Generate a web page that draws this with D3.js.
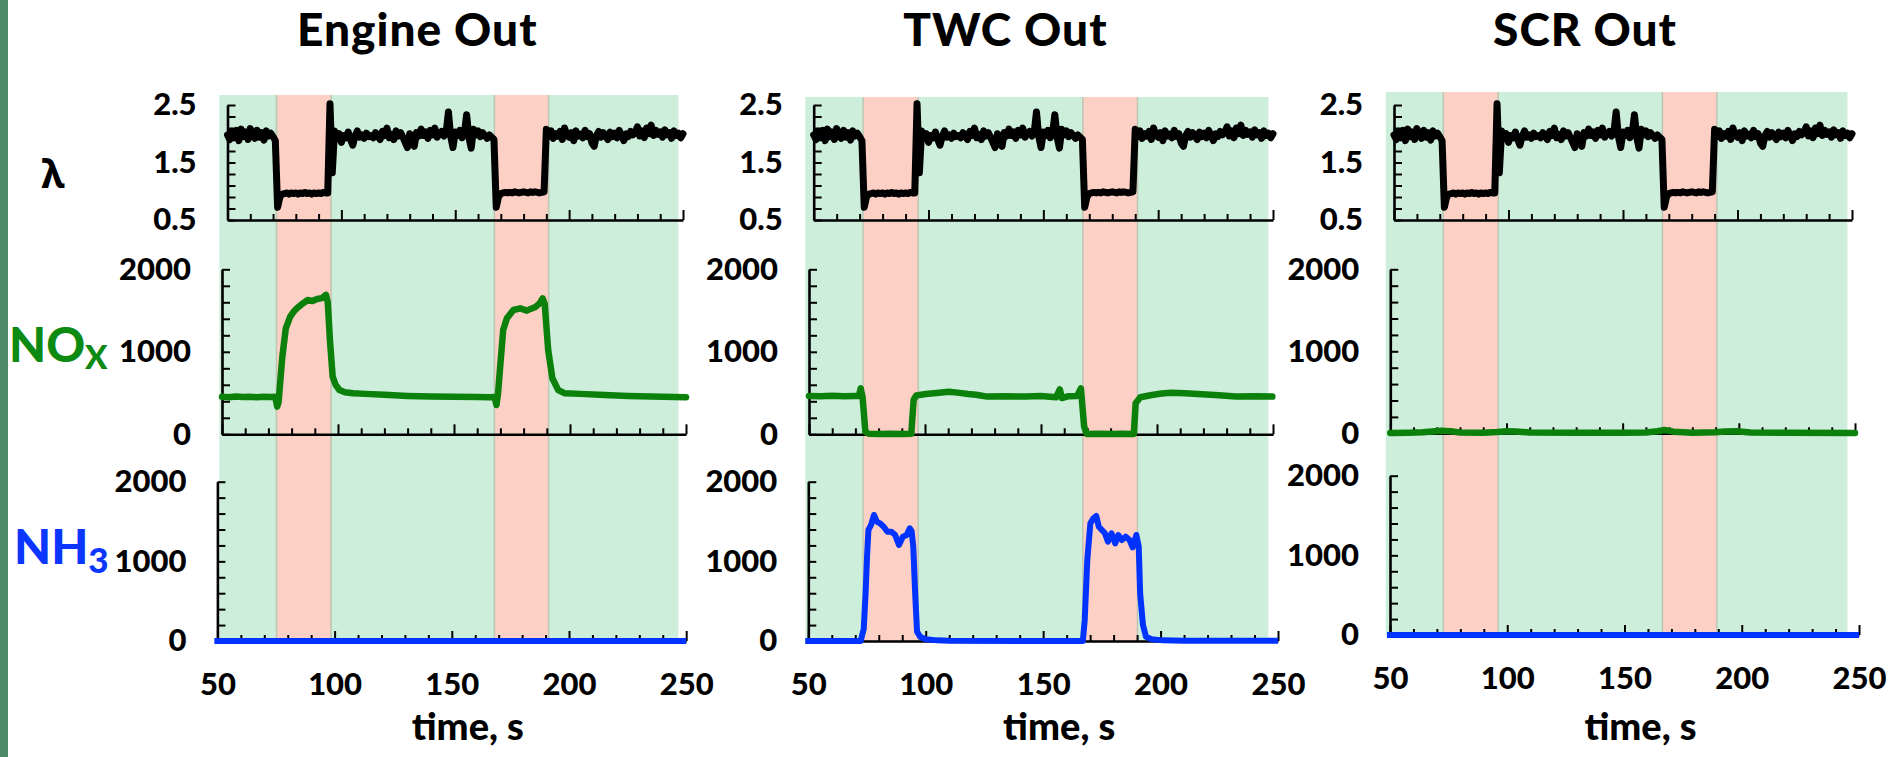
<!DOCTYPE html>
<html><head><meta charset="utf-8">
<script src="https://cdn.jsdelivr.net/npm/d3@7"></script>
<style>
html,body{margin:0;padding:0;background:#fff;}
svg{display:block;font-family:Lato,"Open Sans","DejaVu Sans",sans-serif;}
</style></head><body>
<svg id="chart" width="1888" height="757"></svg>
<script>
// ---------------- DATA ----------------
const panelTitles = ["Engine Out", "TWC Out", "SCR Out"];
const xTickLabels = [50, 100, 150, 200, 250];
const lambdaTickLabels = [2.5, 1.5, 0.5];
const concTickLabels = [2000, 1000, 0];

// lean (green) and rich (red) phases, time in s
const leanPhases = [[46.4, 71.5], [95.5, 167.2], [191.0, 248.0]];
const richPhases = [[71.5, 95.5], [167.2, 191.0]];

// lambda, one sample per second from t = 50 s to 250 s (same trace at all three positions)
const lambdaValues = [
  1.98, 1.90, 2.04, 1.93, 2.06, 1.88, 2.08, 1.95, 2.03, 1.90,
  2.09, 1.97, 1.92, 2.06, 1.94, 2.02, 1.89, 2.05, 1.96, 2.01,
  1.95, 1.88, 0.72, 0.90, 0.95, 0.96, 0.97, 0.95, 0.97, 0.96,
  0.97, 0.95, 0.97, 0.96, 0.98, 0.96, 0.97, 0.95, 0.97, 0.96,
  0.97, 0.96, 0.98, 0.97, 0.97, 2.52, 1.32, 2.05, 1.92, 2.00,
  1.85, 1.97, 1.93, 2.03, 1.90, 1.80, 1.96, 2.05, 1.94, 1.98,
  1.92, 2.01, 1.95, 1.97, 1.93, 2.02, 1.96, 1.90, 2.04, 1.97,
  2.10, 1.93, 1.99, 1.90, 2.05, 1.96, 2.02, 1.94, 1.85, 1.76,
  2.00, 1.95, 1.78, 2.02, 1.96, 2.08, 1.97, 2.03, 1.92, 2.06,
  1.98, 2.10, 1.94, 2.00, 2.04, 1.96, 2.02, 2.38, 1.95, 1.76,
  2.03, 1.97, 2.06, 1.93, 2.00, 2.33, 1.94, 1.75, 2.08, 1.98,
  2.05, 1.95, 2.02, 1.97, 1.92, 1.98, 1.94, 1.90, 0.72, 0.90,
  0.96, 0.97, 0.98, 0.97, 0.98, 0.97, 0.99, 0.98, 0.97, 0.98,
  0.99, 0.98, 0.97, 0.99, 0.98, 0.99, 0.98, 0.97, 0.98, 0.99,
  2.08, 1.95, 2.05, 1.92, 2.00, 1.96, 2.04, 1.90, 2.10, 1.97,
  1.94, 2.02, 1.88, 2.05, 1.96, 1.99, 1.93, 2.06, 1.95, 2.00,
  1.84, 1.78, 1.97, 2.04, 1.94, 2.02, 1.96, 1.90, 2.03, 1.95,
  2.01, 1.93, 2.06, 1.97, 1.88, 2.00, 1.95, 2.04, 1.98, 2.02,
  2.12, 1.96, 2.05, 1.93, 2.10, 2.00, 2.15, 1.97, 2.06, 1.99,
  2.03, 1.94, 2.07, 1.98, 2.02, 1.92, 2.05, 1.97, 2.01, 1.93,
  2.00
];

// NOx [time s, ppm]
const noxEngineOut = [
  [50,455],[53,450],[56,458],[59,451],[62,456],[65,449],[68,455],[71,451],[72.6,454],[73.2,420],
  [73.8,335],[74.4,390],[75,600],[76,940],[77.5,1285],[79.4,1426],[81,1490],[82.3,1527],[84.5,1580],
  [87,1628],[89,1615],[91,1640],[93,1650],[94.8,1690],[95.6,1600],[96.5,1150],[97.7,700],[99,600],
  [100.6,537],[103,510],[106.4,497],[112,490],[120,478],[130,465],[140,458],[150,455],[160,452],
  [165,450],[167.5,452],[168.3,355],[169,500],[169.9,820],[171.2,1264],[172.8,1406],[175.6,1507],
  [178.5,1527],[181.4,1499],[183,1520],[185.3,1547],[187,1590],[188.2,1648],[189.1,1580],[190.6,1022],
  [192.4,679],[194.9,537],[197.8,497],[204.5,490],[215,475],[225,465],[235,458],[245,452],[250,450]
];
const noxTwcOut = [
  [50,464],[55,460],[60,466],[65,461],[70,463],[71.5,464],[72.3,557],[73.1,450],[74.3,32],[75.6,8],
  [80,5],[85,8],[90,4],[94.1,6],[95.1,416],[96.2,470],[100.4,488],[105,500],[110.3,517],[114,505],
  [118.5,488],[122,480],[126.8,457],[135,462],[143.3,457],[150,465],[156.5,449],[158.1,545],[159,440],
  [162,462],[165.6,464],[167.2,557],[168.6,93],[169.7,5],[175,6],[180,3],[185,6],[190,5],[190.8,376],
  [192.8,449],[197.8,476],[202,495],[206,505],[212,498],[217.5,488],[225,475],[234,457],[242,462],[249.7,457]
];
const noxScrOut = [
  [50,5],[58,8],[64,12],[68,22],[72,30],[76,25],[80,10],[90,8],[96,15],[100,25],[104,22],[110,10],
  [130,8],[150,6],[160,10],[165,25],[168,40],[172,20],[180,8],[190,12],[194,22],[199,25],[205,10],
  [220,6],[250,5]
];

// NH3 [time s, ppm]
const nh3EngineOut = [[48.7,0],[250,0]];
const nh3TwcOut = [
  [48.7,0],[72.3,0],[73.6,150],[74.4,600],[75,1050],[75.6,1394],[76.7,1456],[78,1582],[79.2,1498],
  [80.5,1477],[82.1,1435],[83.7,1372],[85.4,1372],[87,1331],[88.6,1205],[90.3,1310],[91.9,1331],
  [93.2,1415],[94,1380],[94.7,1184],[95.5,599],[96.3,117],[97.6,54],[100,21],[104.9,8],[110,3],
  [166.9,0],[167.7,264],[168.8,1017],[170.1,1477],[171.4,1540],[172.6,1569],[173.7,1435],[175,1394],
  [176.3,1352],[177.6,1247],[179.1,1352],[180.7,1226],[182,1331],[183.5,1268],[185.1,1310],
  [186.8,1268],[188.1,1176],[189.7,1331],[190.7,1184],[191.3,599],[192.5,201],[193.8,54],
  [196.2,21],[201.1,8],[210,3],[250,2]
];
const nh3ScrOut = [[48.7,0],[250,0]];

const noxSeries = [noxEngineOut, noxTwcOut, noxScrOut];
const nh3Series = [nh3EngineOut, nh3TwcOut, nh3ScrOut];

// ---------------- LAYOUT / STYLE ----------------
const layout = [
  {lam:[227.5,683], nox:[222,686], nh3:[217.4,686.2], noxY:[434.3,269.3], nh3Y:[641,481.7], bgTop:95, bgBottom:641},
  {lam:[813.7,1273], nox:[809,1273], nh3:[808.3,1278], noxY:[434.3,269.3], nh3Y:[641,481.7], bgTop:97, bgBottom:641},
  {lam:[1394,1852], nox:[1390.3,1855], nh3:[1390,1859], noxY:[433.3,269.3], nh3Y:[635,475.7], bgTop:92, bgBottom:635}
];
const lamY = [220, 105];
const leanColor = "#cdeedb", richColor = "#fdd0c5", edgeColor = "#bcc6b2";
const noxColor = "#0b800b", nh3Color = "#0033ff";
const FONT = "Lato, 'Open Sans', sans-serif";

const svg = d3.select("#chart");
svg.append("rect").attr("x",0).attr("y",0).attr("width",8).attr("height",757).attr("fill","#4b8a64");

const xTicks = d3.range(50, 251, 10);

function drawRow(g, xr, yr, domain, minorTicks, labelVals, fmt, showX) {
  const x = d3.scaleLinear().domain([50,250]).range(xr);
  const y = d3.scaleLinear().domain(domain).range(yr);
  const yAxis = d3.axisLeft(y).tickValues(minorTicks).tickSizeInner(-8).tickSizeOuter(0).tickPadding(31)
    .tickFormat(d => labelVals.some(v => Math.abs(v - d) < 1e-6) ? fmt(d) : "");
  const ya = g.append("g").attr("transform", `translate(${x(50)},0)`).call(yAxis);
  const xAxis = d3.axisBottom(x).tickValues(xTicks).tickSizeInner(-6).tickSizeOuter(0).tickPadding(32)
    .tickFormat(d => (showX && d % 50 === 0) ? d : "");
  const xa = g.append("g").attr("transform", `translate(0,${y(domain[0])})`).call(xAxis);
  xa.selectAll(".tick line").attr("y2", d => d % 50 === 0 ? -10 : -6);
  [ya, xa].forEach(a => {
    a.select(".domain").attr("stroke", "#000").attr("stroke-width", 2.6);
    a.selectAll(".tick line").attr("stroke", "#000").attr("stroke-width", 2);
    a.selectAll(".tick text").attr("fill", "#000").attr("font-size", 31).attr("font-weight", 900)
      .attr("font-family", FONT);
  });
  return {x, y};
}

layout.forEach((L, i) => {
  const g = svg.append("g");
  const xBg = d3.scaleLinear().domain([50,250]).range(L.lam);
  g.selectAll("rect.lean").data(leanPhases).join("rect").attr("class","lean")
    .attr("x", d => xBg(d[0])).attr("width", d => xBg(d[1]) - xBg(d[0]))
    .attr("y", L.bgTop).attr("height", L.bgBottom - L.bgTop).attr("fill", leanColor);
  g.selectAll("rect.rich").data(richPhases).join("rect").attr("class","rich")
    .attr("x", d => xBg(d[0])).attr("width", d => xBg(d[1]) - xBg(d[0]))
    .attr("y", L.bgTop).attr("height", L.bgBottom - L.bgTop).attr("fill", richColor);
  g.selectAll("line.edge").data(richPhases.flat()).join("line").attr("class","edge")
    .attr("x1", d => xBg(d)).attr("x2", d => xBg(d))
    .attr("y1", L.bgTop).attr("y2", L.bgBottom).attr("stroke", edgeColor).attr("stroke-width", 1.5);

  // title
  g.append("text").attr("x", (L.lam[0] + L.lam[1]) / 2 - 38).attr("y", 46)
    .attr("text-anchor", "middle").attr("font-size", 46).attr("font-weight", 900)
    .attr("letter-spacing", 1).attr("font-family", FONT).text(panelTitles[i]);

  // lambda row
  const lamMinor = d3.range(11).map(k => +(0.5 + k * 0.2).toFixed(2));
  const r1 = drawRow(g, L.lam, lamY, [0.5, 2.5], lamMinor, lambdaTickLabels, d => d.toFixed(1), false);
  const lamData = lambdaValues.map((v, k) => [50 + k, v]);
  g.append("path").datum(lamData).attr("fill","none").attr("stroke","#000").attr("stroke-width",7)
    .attr("stroke-linejoin","round").attr("stroke-linecap","round")
    .attr("d", d3.line().x(d => r1.x(d[0])).y(d => r1.y(d[1])));

  // NOx row
  const concMinor = d3.range(11).map(k => k * 200);
  const r2 = drawRow(g, L.nox, L.noxY, [0, 2000], concMinor, concTickLabels, d => d, false);
  g.append("path").datum(noxSeries[i]).attr("fill","none").attr("stroke",noxColor).attr("stroke-width",6.5)
    .attr("stroke-linejoin","round").attr("stroke-linecap","round")
    .attr("d", d3.line().x(d => r2.x(d[0])).y(d => r2.y(d[1])));

  // NH3 row
  const r3 = drawRow(g, L.nh3, L.nh3Y, [0, 2000], concMinor, concTickLabels, d => d, true);
  g.append("path").datum(nh3Series[i]).attr("fill","none").attr("stroke",nh3Color).attr("stroke-width",6)
    .attr("stroke-linejoin","round").attr("stroke-linecap","butt")
    .attr("d", d3.line().x(d => r3.x(d[0])).y(d => r3.y(d[1])));

  // x-axis title
  g.append("text").attr("x", (L.nh3[0] + L.nh3[1]) / 2 + 16).attr("y", 740)
    .attr("text-anchor", "middle").attr("font-size", 38).attr("font-weight", 900)
    .attr("font-family", FONT).text("time, s");
});

// row labels
svg.append("text").attr("x", 53).attr("y", 188).attr("text-anchor","middle")
  .attr("font-family","'Noto Sans','DejaVu Sans',sans-serif").attr("font-size", 40).attr("font-weight", 700)
  .text("λ");
const noxLbl = svg.append("text").attr("x", 9).attr("y", 362).attr("fill", "#0d8a12")
  .attr("font-size", 48).attr("font-weight", 900).attr("font-family", FONT);
noxLbl.append("tspan").text("NO");
noxLbl.append("tspan").attr("dy", 7).attr("font-size", 33).text("X");
const nh3Lbl = svg.append("text").attr("x", 14).attr("y", 564).attr("fill", "#0a36ff")
  .attr("font-size", 48).attr("font-weight", 900).attr("font-family", FONT);
nh3Lbl.append("tspan").text("NH");
nh3Lbl.append("tspan").attr("dy", 9).attr("font-size", 35).text("3");
</script>
</body></html>
